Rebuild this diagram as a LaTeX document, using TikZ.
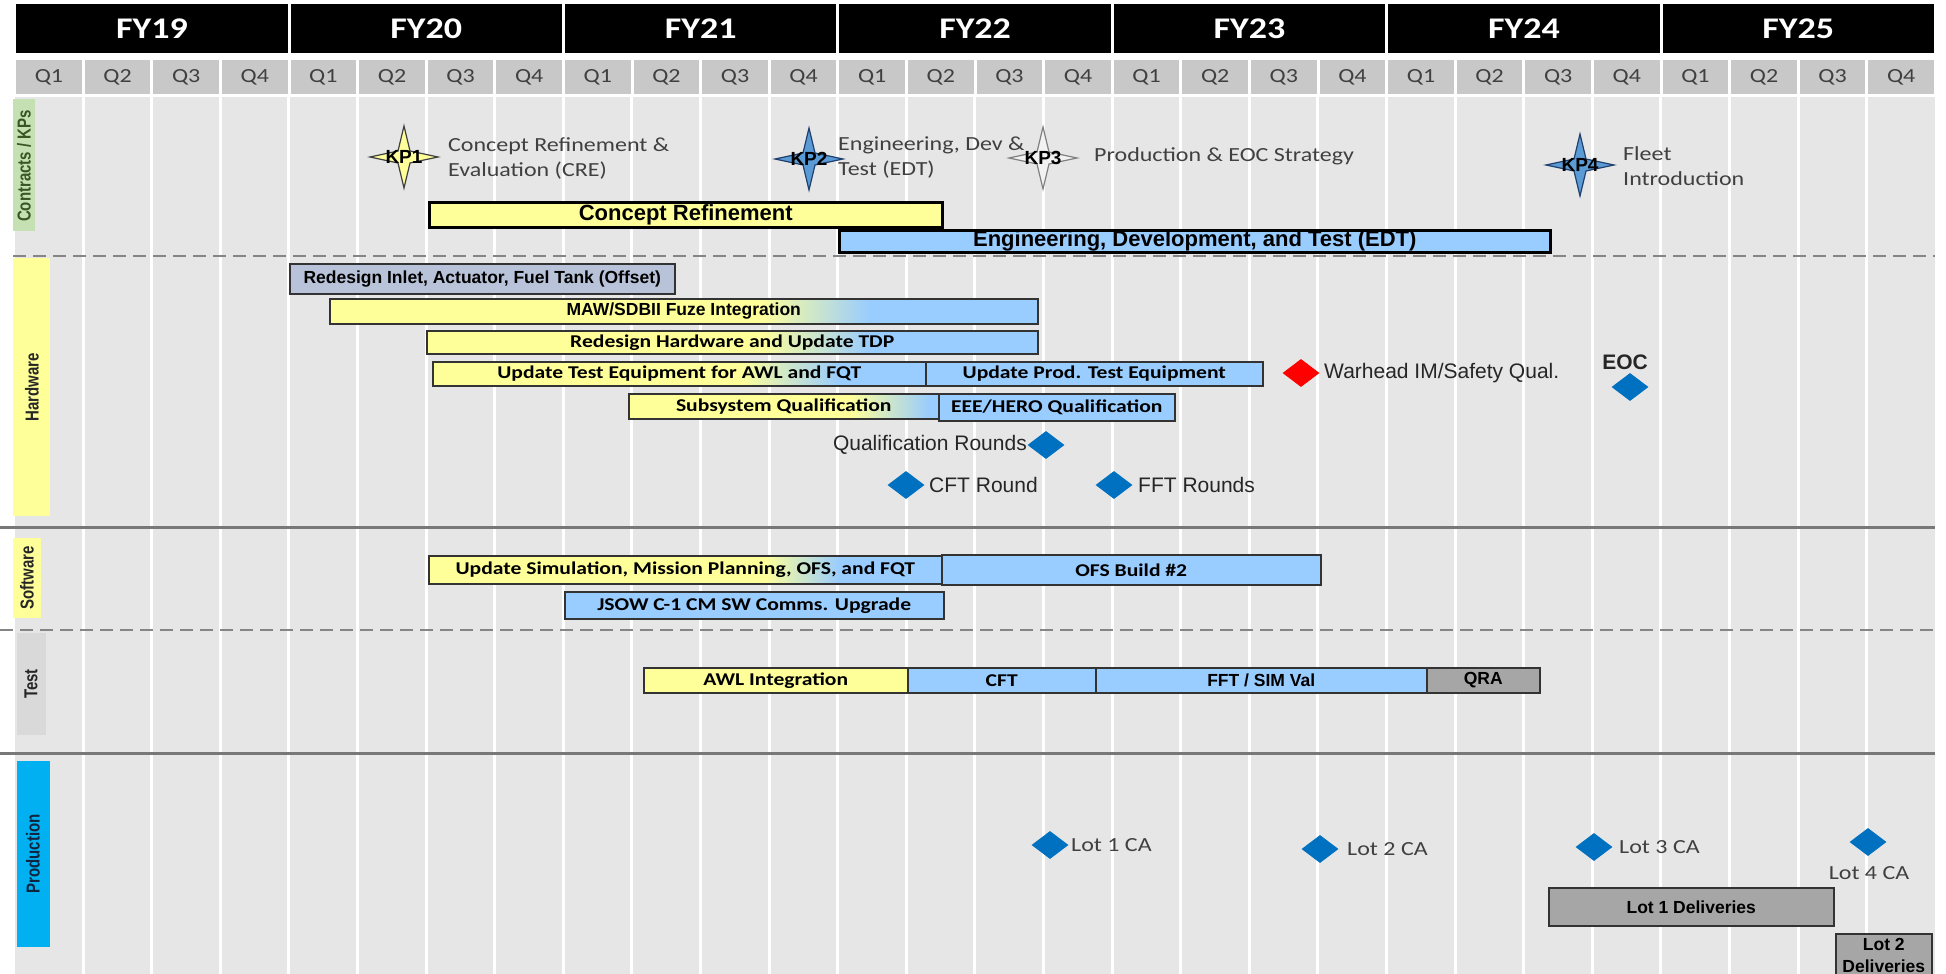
\documentclass[tikz,border=0pt]{standalone}
\usepackage{fontspec}
\setmainfont{Liberation Sans}
\newfontfamily\calib[FakeStretch=1.2]{Carlito}
\usetikzlibrary{shapes.geometric}
\definecolor{barY}{HTML}{FFFF99}
\definecolor{barB}{HTML}{99CCFF}
\definecolor{barG}{HTML}{A6A6A6}
\definecolor{barS}{HTML}{B8C2D8}
\definecolor{bodyG}{HTML}{E6E6E6}
\definecolor{qG}{HTML}{C8C8C8}
\definecolor{msB}{HTML}{0070C0}
\definecolor{txtG}{HTML}{404040}
\definecolor{sepG}{HTML}{858585}
\definecolor{lineD}{HTML}{333333}
\definecolor{kpBlue}{HTML}{5B9BD5}
\definecolor{kpBlueD}{HTML}{1F3F6F}
\definecolor{lbGreen}{HTML}{C5E0B3}
\definecolor{lbGreenT}{HTML}{375623}
\definecolor{lbGray}{HTML}{D9D9D9}
\definecolor{lbCyan}{HTML}{00B0F0}
\definecolor{lbNavy}{HTML}{0F243E}
\newcommand\fs[1]{\fontsize{#1}{#1}\selectfont}
\newcommand\vst[1]{\scalebox{1}[1.25]{#1}}
\tikzset{
  gbar/.style={draw=lineD, line width=1.5pt, inner sep=0pt, anchor=north west, text=black},
  thickbar/.style={draw=black, line width=2.5pt},
  abold/.style={font=\bfseries\fs{17.5}},
  abig/.style={font=\bfseries\fs{22}},
  cbold/.style={font=\calib\bfseries\fs{18}},
  yearcell/.style={fill=black, text=white, anchor=north west, inner sep=0pt, minimum width=271.4pt, minimum height=49pt, font=\calib\bfseries\fs{30}},
  qcell/.style={fill=qG, text=txtG, anchor=north west, inner sep=0pt, minimum width=65.6pt, minimum height=34pt, font=\calib\fs{20}},
  ms/.style={diamond, fill=msB, minimum width=37pt, minimum height=28pt, inner sep=0pt},
  mstext/.style={inner sep=0pt, text=black!85, font=\fs{21}},
  lottext/.style={inner sep=0pt, text=txtG, font=\calib\fs{20}},
  kplabel/.style={anchor=west, align=left, inner sep=0pt, text=txtG, font=\calib\fontsize{20}{25}\selectfont},
  kptext/.style={inner sep=0pt, text=black, font=\bfseries\fs{19}},
  seclabel/.style={rotate=90, inner sep=0pt, font=\bfseries\fs{15}},
  sepdash/.style={sepG, line width=2.5pt, dash pattern=on 13pt off 7pt},
  sepsolid/.style={sepG!90!black, line width=3pt}
}
\newcommand\tbar[7]{\node[gbar,#6,minimum width={#4-#2},minimum height={#5-#3}] (#1) at (#2,#3) {#7};}
\newcommand\gradbar[9]{%
  \fill[barY] (#2,#3) rectangle (#6,#5);
  \shade[left color=barY, right color=barB] (#6,#3) rectangle (#7,#5);
  \fill[barB] (#7,#3) rectangle (#4,#5);
  \node[gbar,#8,minimum width={#4-#2},minimum height={#5-#3}] (#1) at (#2,#3) {#9};}
\newcommand\kpstar[6]{%
  \filldraw[fill=#4, draw=#5, line width=1.2pt, shift={(#2,#3)}]
    (0,-31) -- (6,-6) -- (34,0) -- (6,6) -- (0,31) -- (-6,6) -- (-34,0) -- (-6,-6) -- cycle;
  \node[kptext] (#1) at (#2,#3) {#6};}
\begin{document}
\begin{tikzpicture}[x=1pt,y=-1pt]
\useasboundingbox (0,0) rectangle (1946,974);
\fill[white] (0,0) rectangle (1946,974);
% body background and quarter lines
\fill[bodyG] (14.5,97) rectangle (1935.3,974);
\foreach \i in {1,...,27} \draw[white, line width=3pt] ({14.5+68.6*\i},97) -- ({14.5+68.6*\i},974);
% header
\foreach \j/\t in {0/FY19,1/FY20,2/FY21,3/FY22,4/FY23,5/FY24,6/FY25}
  \node[yearcell] (fy\j) at ({14.5+274.4*\j+1.5},4) {\t};
\foreach \i in {0,...,27}{
  \pgfmathtruncatemacro\q{mod(\i,4)+1}
  \node[qcell] (q\i) at ({14.5+68.6*\i+1.5},60) {Q\q};
}
% separators
\draw[sepdash] (13,256) -- (1935,256);
\draw[sepsolid] (0,527) -- (1935,527);
\draw[sepdash] (0,630) -- (1935,630);
\draw[sepsolid] (0,753) -- (1935,753);
% section labels
\fill[lbGreen] (13,99) rectangle (35,231);
\node[seclabel, text=lbGreenT] (lbk) at (24,166) {\vst{Contracts / KPs}};
\fill[barY] (13,258) rectangle (50,516);
\node[seclabel, text=black!85] (lbh) at (32,387) {\vst{Hardware}};
\fill[barY] (13,538) rectangle (41,618);
\node[seclabel, text=black!85] (lbs) at (27,578) {\vst{Software}};
\fill[lbGray] (17,633) rectangle (46,735);
\node[seclabel, text=black!85] (lbt) at (31,684) {\vst{Test}};
\fill[lbCyan] (17,761) rectangle (50,947);
\node[seclabel, text=lbNavy] (lbp) at (33,854) {\vst{Production}};
% contracts / KPs
\tbar{concept}{428}{201}{941}{226}{fill=barY,thickbar,abig}{Concept Refinement}
\tbar{edt}{838}{229}{1549}{251}{fill=barB,thickbar,abig}{Engineering, Development, and Test (EDT)}
\kpstar{kp1}{404}{157}{barY}{txtG}{KP1}
\kpstar{kp2}{809}{159}{kpBlue}{kpBlueD}{KP2}
\kpstar{kp3}{1043}{158}{white!95!black}{black!50}{KP3}
\kpstar{kp4}{1580}{165}{kpBlue}{kpBlueD}{KP4}
\node[kplabel] (kp1t) at (448,158) {Concept Refinement \&\\Evaluation (CRE)};
\node[kplabel] (kp2t) at (838,158) {Engineering, Dev \&\\Test (EDT)};
\node[kplabel] (kp3t) at (1094,156) {Production \& EOC Strategy};
\node[kplabel] (kp4t) at (1623,166) {Fleet\\Introduction};
% hardware
\tbar{inlet}{289}{263}{674}{293}{fill=barS,abold}{Redesign Inlet, Actuator, Fuel Tank (Offset)}
\gradbar{maw}{329}{298}{1037}{323}{760}{870}{abold}{MAW/SDBII Fuze Integration}
\gradbar{redhw}{426}{330}{1037}{353}{760}{870}{cbold}{Redesign Hardware and Update TDP}
\gradbar{ute}{432}{361}{925}{385}{740}{840}{cbold}{Update Test Equipment for AWL and FQT}
\tbar{upte}{925}{361}{1262}{385}{fill=barB,cbold}{Update Prod. Test Equipment}
\gradbar{subq}{628}{393}{938}{418}{850}{930}{cbold}{Subsystem Qualification}
\tbar{eee}{938}{393}{1174}{420}{fill=barB,cbold}{EEE/HERO Qualification}
\node[ms, fill=red] (wh) at (1301,373) {};
\node[mstext, anchor=west] (wht) at (1324,373) {Warhead IM/Safety Qual.};
\node[ms] (eoc) at (1630,387) {};
\node[mstext, font=\bfseries\fs{21}] (eoct) at (1625,362) {EOC};
\node[ms] (qr) at (1046,445) {};
\node[mstext, anchor=east] (qrt) at (1027,445) {Qualification Rounds};
\node[ms] (cftr) at (906,485) {};
\node[mstext, anchor=west] (cftrt) at (929,485) {CFT Round};
\node[ms] (fftr) at (1114,485) {};
\node[mstext, anchor=west] (fftrt) at (1138,485) {FFT Rounds};
% software
\gradbar{usim}{428}{555}{941}{583}{765}{840}{cbold}{Update Simulation, Mission Planning, OFS, and FQT}
\tbar{ofs}{941}{554}{1320}{584}{fill=barB,cbold}{OFS Build \#2}
\tbar{jsow}{564}{591}{943}{618}{fill=barB,cbold}{JSOW C-1 CM SW Comms. Upgrade}
% test
\tbar{awl}{643}{667}{907}{692}{fill=barY,cbold}{AWL Integration}
\tbar{cft}{907}{667}{1095}{692}{fill=barB,cbold}{CFT}
\tbar{fft}{1095}{667}{1426}{692}{fill=barB,abold}{FFT / SIM Val}
\tbar{qra}{1426}{667}{1539}{692}{fill=barG,abold}{QRA}
% production
\node[ms] (lot1) at (1050,845) {};
\node[lottext, anchor=west] (lot1t) at (1071,845) {Lot 1 CA};
\node[ms] (lot2) at (1320,849) {};
\node[lottext, anchor=west] (lot2t) at (1347,849) {Lot 2 CA};
\node[ms] (lot3) at (1594,847) {};
\node[lottext, anchor=west] (lot3t) at (1619,847) {Lot 3 CA};
\node[ms] (lot4) at (1868,842) {};
\node[lottext] (lot4t) at (1869,873) {Lot 4 CA};
\tbar{lot1d}{1548}{887}{1833}{925}{fill=barG,abold}{Lot 1 Deliveries}
\node[gbar, fill=barG, minimum width=96pt, minimum height=44pt, align=center, font=\bfseries\fontsize{17.5}{22}\selectfont] (lot2d) at (1835,933) {Lot 2\\Deliveries};
\end{tikzpicture}
\end{document}
